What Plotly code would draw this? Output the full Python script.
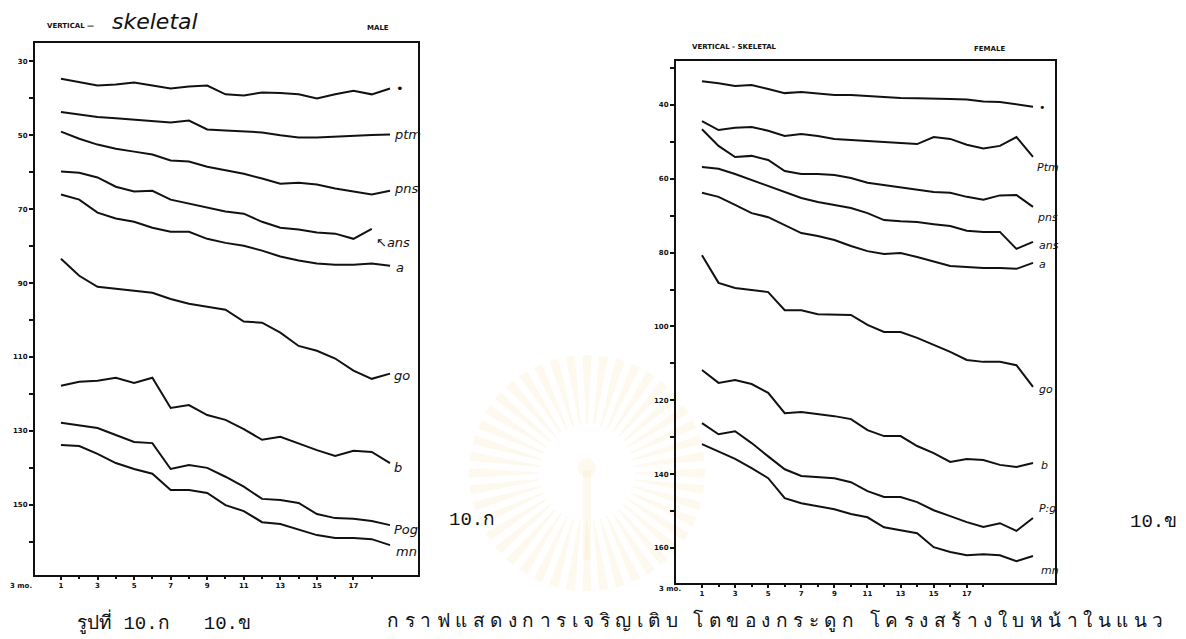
import math
import plotly.graph_objects as go

# ---------------- data ----------------
male_age = list(range(1, 20))
male_N   = [34.7,35.7,36.5,36.2,35.7,36.5,37.3,36.8,36.5,38.9,39.2,38.4,38.5,38.9,40.0,38.9,37.9,38.9,37.3]
male_PTM = [43.7,44.4,45.0,45.4,45.7,46.0,46.5,46.0,48.4,48.7,49.0,49.2,50.0,50.6,50.6,50.3,50.1,49.9,49.8]
male_PNS = [49.0,50.9,52.5,53.6,54.4,55.2,56.8,57.1,58.5,59.5,60.4,61.7,63.1,62.8,63.3,64.4,65.2,66.0,65.0]
male_ANS = [59.8,60.1,61.4,63.9,65.2,65.0,67.4,68.5,69.6,70.6,71.2,73.4,75.0,75.5,76.3,76.6,78.0,75.3,None]
male_A   = [66.0,67.4,70.9,72.5,73.4,75.0,76.1,76.1,78.0,79.1,79.9,81.2,82.8,83.9,84.7,85.0,85.0,84.7,85.3]
male_GO  = [83.4,88.0,91.0,91.5,92.1,92.6,94.3,95.6,96.4,97.2,100.4,100.7,103.4,107.0,108.3,110.4,113.7,115.9,114.5]
male_B   = [117.8,116.7,116.4,115.6,117.0,115.6,123.8,123.0,125.7,127.0,129.5,132.4,131.6,133.5,135.2,136.8,135.4,135.7,138.7]
male_POG = [127.8,128.6,129.2,131.1,133.0,133.3,140.3,139.2,140.0,142.4,145.1,148.4,148.7,149.5,152.5,153.6,153.8,154.4,155.5]
male_MN  = [133.8,134.1,136.2,138.7,140.3,141.6,146.0,146.0,146.8,150.1,151.7,154.7,155.2,156.6,158.2,159.0,159.0,159.3,160.9]

fem_age = list(range(1, 22))
fem_N   = [33.6,34.1,34.9,34.6,35.7,36.8,36.5,36.9,37.3,37.3,37.6,38.0,38.1,38.2,38.4,38.4,38.5,39.1,39.2,39.8,40.5]
fem_PTM = [44.4,46.8,46.2,46.0,47.0,48.4,47.9,48.4,49.2,49.5,49.8,50.0,50.3,50.6,48.7,49.2,50.8,51.8,51.1,48.7,54.1]
fem_PNS = [46.6,51.1,54.1,53.8,54.9,57.9,58.7,58.7,59.0,59.8,61.1,61.7,62.5,63.0,63.6,63.8,64.9,65.7,64.5,64.4,67.6]
fem_ANS = [56.8,57.3,58.7,60.3,62.0,63.6,65.2,66.3,67.1,67.9,69.3,71.2,71.5,71.7,72.3,72.8,74.1,74.4,74.4,79.0,77.1]
fem_A   = [63.8,64.9,67.1,69.3,70.4,72.5,74.7,75.5,76.6,78.2,79.6,80.4,80.1,81.2,82.5,83.6,83.9,84.2,84.2,84.4,82.8]
fem_GO  = [80.7,88.2,89.6,90.1,90.7,95.6,95.6,96.7,96.9,96.9,99.6,101.5,101.5,103.1,105.0,106.9,109.1,109.6,109.6,110.5,116.4]
fem_B   = [111.8,115.3,114.5,115.6,118.0,123.5,123.2,123.7,124.3,125.1,128.1,129.7,129.7,132.4,134.3,136.7,135.9,136.2,137.5,138.1,137.0]
fem_POG = [126.2,129.2,128.4,131.6,135.2,138.7,140.5,140.8,141.1,142.2,144.6,146.2,146.2,147.6,149.8,151.4,153.0,154.3,153.3,155.4,151.9]
fem_MN  = [131.9,134.0,135.9,138.4,141.1,146.5,147.9,148.7,149.5,150.8,151.7,154.4,155.2,156.0,159.8,161.1,162.0,161.7,162.0,163.6,162.2]

male_series = [male_N, male_PTM, male_PNS, male_ANS, male_A, male_GO, male_B, male_POG, male_MN]
fem_series = [fem_N, fem_PTM, fem_PNS, fem_ANS, fem_A, fem_GO, fem_B, fem_POG, fem_MN]
male_labels = ["•", "ptm", "pns", "↖ans", "a", "go", "b", "Pog", "mn"]
fem_labels = ["•", "Ptm", "pns", "ans", "a", "go", "b", "P:g", "mn"]

x_tickvals = [1, 3, 5, 7, 9, 11, 13, 15, 17]
x_ticktext = ["1", "3", "5", "7", "9", "11", "13", "15", "17"]
male_yticks = [30, 50, 70, 90, 110, 130, 150]
fem_yticks = [40, 60, 80, 100, 120, 140, 160]

# ---------------- figure ----------------
fig = go.Figure()
for s in male_series:
    fig.add_trace(go.Scatter(x=male_age, y=s, mode="lines", xaxis="x", yaxis="y",
                             line=dict(color="#111", width=2), showlegend=False, connectgaps=False))
for s in fem_series:
    fig.add_trace(go.Scatter(x=fem_age, y=s, mode="lines", xaxis="x2", yaxis="y2",
                             line=dict(color="#111", width=2), showlegend=False))

tickfont = dict(family="DejaVu Sans", size=7, color="#111", weight="bold")
common_x = dict(showline=True, linecolor="#111", linewidth=2, mirror=True, showgrid=False,
                zeroline=False, ticks="outside", ticklen=3, tickcolor="#111", tickwidth=2,
                tickvals=x_tickvals, ticktext=x_ticktext, tickfont=tickfont,
                minor=dict(ticks="outside", tickvals=[2, 4, 6, 8, 10, 12, 14, 16, 18], ticklen=2,
                           tickcolor="#111", tickwidth=2))
common_y = dict(showline=True, linecolor="#111", linewidth=2, mirror=True, showgrid=False,
                zeroline=False, ticks="outside", ticklen=4, tickcolor="#111", tickwidth=2,
                tickfont=tickfont, minor=dict(ticks="outside", dtick=10, ticklen=4,
                                               tickcolor="#111", tickwidth=2))

W, H = 1186, 639

# faint sunburst watermark (decoration)
shapes = []
cx, cy = 587, 473
n_rays = 44
wm = "rgba(246,222,160,0.17)"
for k in range(n_rays):
    a0 = 2 * math.pi * k / n_rays
    da = math.pi / n_rays * 0.55
    r1, r2 = 48, 118
    pts = [(cx + r1 * math.cos(a0 - da * 0.4), cy + r1 * math.sin(a0 - da * 0.4)),
           (cx + r2 * math.cos(a0 - da), cy + r2 * math.sin(a0 - da)),
           (cx + r2 * math.cos(a0 + da), cy + r2 * math.sin(a0 + da)),
           (cx + r1 * math.cos(a0 + da * 0.4), cy + r1 * math.sin(a0 + da * 0.4))]
    path = "M " + " L ".join(f"{px / W:.5f},{1 - py / H:.5f}" for px, py in pts) + " Z"
    shapes.append(dict(type="path", xref="paper", yref="paper", path=path,
                       fillcolor=wm, line=dict(width=0), layer="below"))
shapes.append(dict(type="rect", xref="paper", yref="paper", x0=583 / W, x1=591 / W,
                   y0=1 - 560 / H, y1=1 - 470 / H, fillcolor=wm,
                   line=dict(width=0), layer="below"))
shapes.append(dict(type="circle", xref="paper", yref="paper", x0=578 / W, x1=596 / W,
                   y0=1 - 478 / H, y1=1 - 458 / H, fillcolor=wm,
                   line=dict(width=0), layer="below"))

fig.update_layout(
    width=W, height=H, margin=dict(l=0, r=0, t=0, b=0),
    paper_bgcolor="white", plot_bgcolor="rgba(0,0,0,0)",
    xaxis=dict(domain=[35 / W, 418 / W], range=[-0.42, 20.53], anchor="y", **common_x),
    yaxis=dict(domain=[1 - 575 / H, 1 - 43 / H], range=[169, 25], anchor="x",
               tickvals=male_yticks, **common_y),
    xaxis2=dict(domain=[676 / W, 1055 / W], range=[-0.57, 22.33], anchor="y2", **common_x),
    yaxis2=dict(domain=[1 - 583 / H, 1 - 61 / H], range=[169.5, 28.1], anchor="x2",
                tickvals=fem_yticks, **common_y),
    shapes=shapes,
)

ann = []
hand = dict(family="DejaVu Sans", size=13, color="#111", style="italic")
male_shift = [(4, 0), (2, 0), (2, 2), (2, -14), (4, -2), (2, -2), (2, -4), (2, -4), (4, -6)]
for s, lab, (dx, dy) in zip(male_series, male_labels, male_shift):
    idx = max(i for i, v in enumerate(s) if v is not None)
    ann.append(dict(x=male_age[idx], y=s[idx], xref="x", yref="y", text=lab, showarrow=False,
                    xanchor="left", xshift=dx, yshift=dy, font=hand))
fem_shift = [(4, -1), (2, -11), (2, -11), (4, -4), (4, -2), (4, -3), (6, -2), (4, 10), (6, -14)]
for s, lab, (dx, dy) in zip(fem_series, fem_labels, fem_shift):
    ann.append(dict(x=fem_age[-1], y=s[-1], xref="x2", yref="y2", text=lab, showarrow=False,
                    xanchor="left", xshift=dx, yshift=dy, font=dict(hand, size=11)))

small_caps = dict(family="DejaVu Sans", size=7, color="#111", weight="bold")
typew = dict(family="Liberation Mono, Noto Sans, sans-serif", size=19, color="#111")
ann += [
    dict(x=45 / W, y=1 - 26 / H, xref="paper", yref="paper", text="VERTICAL —", showarrow=False,
         xanchor="left", yanchor="middle", font=small_caps),
    dict(x=110 / W, y=1 - 21 / H, xref="paper", yref="paper", text="skeletal", showarrow=False,
         xanchor="left", yanchor="middle",
         font=dict(family="DejaVu Sans", size=22, style="italic", color="#111")),
    dict(x=365 / W, y=1 - 28 / H, xref="paper", yref="paper", text="MALE", showarrow=False,
         xanchor="left", yanchor="middle", font=small_caps),
    dict(x=690 / W, y=1 - 47 / H, xref="paper", yref="paper", text="VERTICAL - SKELETAL", showarrow=False,
         xanchor="left", yanchor="middle", font=small_caps),
    dict(x=972 / W, y=1 - 49 / H, xref="paper", yref="paper", text="FEMALE", showarrow=False,
         xanchor="left", yanchor="middle", font=small_caps),
    dict(x=21 / W, y=1 - 586 / H, xref="paper", yref="paper", text="3 mo.", showarrow=False,
         xanchor="center", yanchor="middle", font=small_caps),
    dict(x=670 / W, y=1 - 583 / H, xref="paper", yref="paper", text="3 mo.", showarrow=False,
         xanchor="center", yanchor="top", font=small_caps),
    dict(x=447 / W, y=1 - 520 / H, xref="paper", yref="paper", text="10.ก", showarrow=False,
         xanchor="left", yanchor="middle", font=typew),
    dict(x=1128 / W, y=1 - 522 / H, xref="paper", yref="paper", text="10.ข", showarrow=False,
         xanchor="left", yanchor="middle", font=typew),
    dict(x=75 / W, y=1 - 622 / H, xref="paper", yref="paper", text="รูปที่ 10.ก   10.ข", showarrow=False,
         xanchor="left", yanchor="middle", font=typew),
    dict(x=385 / W, y=1 - 620 / H, xref="paper", yref="paper",
         text="<span style='letter-spacing:5.5px'>กราฟแสดงการเจริญเติบ โตของกระดูก โครงสร้างใบหน้าในแนว</span>",
         showarrow=False, xanchor="left", yanchor="middle",
         font=dict(family="Noto Sans, sans-serif", size=19, color="#111")),
]
fig.update_layout(annotations=ann)
fig.write_html("out.html")
